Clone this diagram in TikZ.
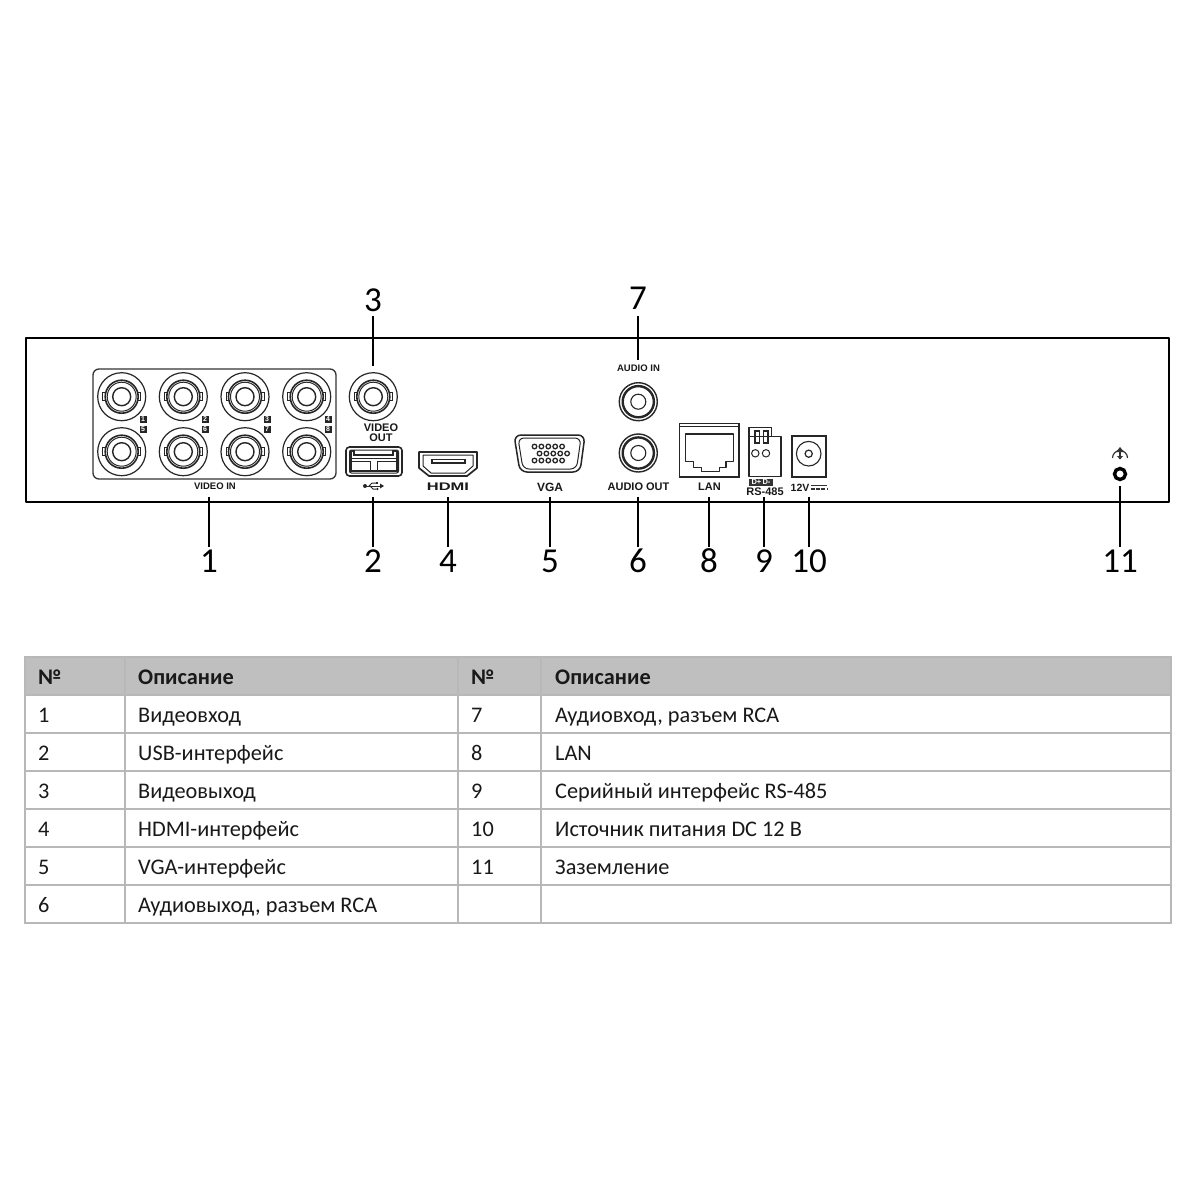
\documentclass[tikz,border=0pt]{standalone}
\usepackage{fontspec}
\setmainfont{Carlito}
\newfontfamily\lab{Liberation Sans}[BoldFont={Liberation Sans Bold}]
\begin{document}
\begin{tikzpicture}[x=1pt,y=-1pt,
  leader/.style={draw=black,line width=2.6pt},
  num/.style={anchor=base,font=\fontsize{35}{35}\selectfont,inner sep=0pt,text=black},
  plab/.style={font=\lab\bfseries\fontsize{9}{9}\selectfont,inner sep=0pt,text=black!90,align=center},
  badge/.style={fill=black!85,text=white,font=\lab\bfseries\fontsize{7}{7}\selectfont,inner sep=0pt,minimum width=7pt,minimum height=7.5pt},
  part/.style={draw=black!85,line width=1.2pt},
  cell/.style={anchor=base west,inner sep=0pt,font=\fontsize{22.3}{23}\selectfont,text=black!90},
  head/.style={anchor=base west,inner sep=0pt,font=\bfseries\fontsize{22.3}{23}\selectfont,text=black!90},
  grid/.style={draw=black!28,line width=1.4pt}]
\useasboundingbox (0,0) rectangle (1200,1200);
\fill[white] (0,0) rectangle (1200,1200);

% chassis
\draw[line width=2.6pt,black,line join=round] (26,338) rectangle (1169,502);
% video-in panel
\draw[black!80,line width=1.3pt,rounded corners=6pt] (93,369) rectangle (336,479);

\newcommand{\bnc}[2]{%
  \draw[part] (#1,#2) circle (24);
  \draw[part,line width=1.6pt] (#1,#2) circle (16.5);
  \draw[part,line width=1pt] (#1,#2) circle (14.5);
  \draw[part,line width=1.4pt] (#1,#2) circle (9);
  \draw[part,line width=1pt] (#1-15.5,#2-4) -- (#1-19,#2-4) -- (#1-19,#2+4) -- (#1-15.5,#2+4);
  \draw[part,line width=1pt] (#1+15.5,#2-4) -- (#1+19,#2-4) -- (#1+19,#2+4) -- (#1+15.5,#2+4);}
\foreach \x in {121.7,183.3,245,306.7}{\bnc{\x}{396.7}\bnc{\x}{451.7}}
\bnc{373.3}{396.7}

\node[badge] (b1) at (143,419.5) {1}; \node[badge] (b5) at (143,429.5) {5};
\node[badge] (b2) at (205,419.5) {2}; \node[badge] (b6) at (205,429.5) {6};
\node[badge] (b3) at (267,419.5) {3}; \node[badge] (b7) at (267,429.5) {7};
\node[badge] (b4) at (328,419.5) {4}; \node[badge] (b8) at (328,429.5) {8};

\node[plab,font=\lab\bfseries\fontsize{9.5}{9.5}\selectfont] (vin) at (215,486) {VIDEO IN};
\node[plab,font=\lab\bfseries\fontsize{11}{10}\selectfont] (vout) at (381,433) {VIDEO\\OUT};

% USB port
\draw[black!85,line width=1.6pt,rounded corners=3.5pt] (346,447) rectangle (402,476);
\draw[black!85,line width=1pt,rounded corners=2pt] (349.5,450) rectangle (398.5,473);
\draw[black!85,line width=1.2pt] (351,451) -- (351,471) -- (397,471) -- (397,451) -- (393,451) -- (393,455) -- (354,455) -- (354,451) -- cycle;
\draw[black!85,line width=1pt] (351,461) -- (370,461) -- (370,471) (377,471) -- (377,461) -- (397,461);
\draw[black!85,line width=1pt] (351,458.5) -- (397,458.5);
% USB symbol
\fill[black!85] (365,486) circle (2);
\draw[black!85,line width=1pt] (365,486) -- (380,486);
\fill[black!85] (380,483.5) -- (384,486) -- (380,488.5) -- cycle;
\draw[black!85,line width=1pt] (369,486) -- (372,483) -- (376,483) (370,486) -- (373,489) -- (376,489);
\fill[black!85] (376,481.8) rectangle (378.4,484.2);
\fill[black!85] (377.4,489) circle (1.3);

% HDMI port
\draw[black!85,line width=1.7pt,line join=round] (419,452) -- (477,452) -- (477,468) -- (467,476) -- (429,476) -- (419,468) -- cycle;
\draw[black!85,line width=1pt,line join=round] (423,455) -- (473,455) -- (473,466) -- (465,473) -- (431,473) -- (423,466) -- cycle;
\draw[black!85,line width=1.1pt] (432,459.5) rectangle (465,463);
\node[plab,font=\lab\bfseries\fontsize{11}{11}\selectfont,xscale=1.5] (hdmi) at (448,487) {HDMI};

% VGA port
\draw[black!85,line width=1.5pt,rounded corners=7pt] (514,435) -- (585,435) -- (580,472) -- (520,472) -- cycle;
\draw[black!85,line width=1pt,rounded corners=6pt] (518,438) -- (581,438) -- (576.5,469) -- (523,469) -- cycle;
\foreach \x in {0,1,2,3,4}{
  \draw[black!85,line width=1.3pt] (534.5+6.9*\x,446.5) circle (2.3);
  \draw[black!85,line width=1.3pt] (539.5+6.9*\x,453.5) circle (2.3);
  \draw[black!85,line width=1.3pt] (534.5+6.9*\x,460.5) circle (2.3);}
\node[plab,font=\lab\bfseries\fontsize{12}{12}\selectfont] (vga) at (550,487) {VGA};

% Audio jacks
\node[plab,font=\lab\bfseries\fontsize{9.5}{10}\selectfont] (ain) at (638.5,368.5) {AUDIO IN};
\foreach \y in {401.7,453}{
  \draw[black!85,line width=1.4pt] (638.3,\y) circle (19);
  \draw[black!85,line width=2.4pt] (638.3,\y) circle (15.6);
  \draw[black!85,line width=1.1pt] (638.3,\y) circle (7.5);}
\node[plab,font=\lab\bfseries\fontsize{11}{11}\selectfont] (aout) at (638.5,487) {AUDIO OUT};

% LAN
\draw[black!85,line width=1.8pt] (679.5,423.5) rectangle (739,477);
\draw[black!85,line width=.9pt] (680,426.5) -- (738.5,426.5);
\draw[black!85,line width=1.2pt,line join=round] (685.7,434) -- (733.3,434) -- (733.3,461.7) -- (726,461.7) -- (726,467.3) -- (719.3,467.3) -- (719.3,471.7) -- (701.7,471.7) -- (701.7,467.3) -- (693.3,467.3) -- (693.3,461.7) -- (685.7,461.7) -- cycle;
\node[plab,font=\lab\bfseries\fontsize{11}{11}\selectfont] (lan) at (709.5,487) {LAN};

% RS-485
\draw[black!85,line width=1.4pt,line join=round] (749,427.7) -- (771.7,427.7) -- (771.7,436.7) -- (781,436.7) -- (781,476.7) -- (749,476.7) -- cycle;
\draw[black!85,line width=1pt] (749,436.7) -- (771.7,436.7);
\draw[black!85,line width=1.6pt] (755,431) rectangle (759.3,443);
\draw[black!85,line width=1.6pt] (763.3,431) rectangle (767.7,443);
\draw[black!85,line width=1pt] (755.3,453.3) circle (3.7);
\draw[black!85,line width=1pt] (766,453.3) circle (3.7);
\node[fill=black!80,text=white,font=\lab\bfseries\fontsize{7.5}{7.5}\selectfont,inner sep=0pt,minimum width=24pt,minimum height=7pt] (dpm) at (761,482) {D+\,D-};
\node[plab,font=\lab\bfseries\fontsize{11}{11}\selectfont] (rs) at (765,492) {RS-485};

% 12 V
\draw[black!85,line width=1.7pt] (792,436.3) rectangle (825.7,476.7);
\draw[black!85,line width=1.1pt] (808.7,453.7) circle (12.3);
\draw[black!85,line width=1.2pt] (808.7,453.7) circle (3.6);
\node[plab,anchor=west,font=\lab\bfseries\fontsize{10.5}{10.5}\selectfont] (v12) at (790.5,487.5) {12V};
\coordinate (dca) at (811,485.7); \coordinate (dcb) at (827,485.7);
\coordinate (dcc) at (811,489); \coordinate (dcd) at (827,489);
\draw[black!80,line width=1.1pt] (dca) -- (dcb);
\draw[black!80,line width=1.1pt,dash pattern=on 3.6pt off 1.6pt] (dcc) -- (dcd);

% Ground
\draw[black,line width=3.4pt] (1120,474) circle (5.5);
\draw[black!80,line width=1.2pt] (1112.5,458) arc[start angle=180,end angle=360,radius=7.5];
\draw[black!80,line width=1.1pt] (1120,447.5) -- (1120,459);
\fill[black!80] (1116,452) -- (1124,452) -- (1120,447) -- cycle;
\fill[black!80] (1117,456) -- (1123,456) -- (1120,459.5) -- cycle;

% callouts
\node[num] (n3) at (373,311) {3};
\node[num] (n7) at (638,309) {7};
\node[num] (n1) at (209,572) {1};
\node[num] (n2) at (373,572) {2};
\node[num] (n4) at (448,572) {4};
\node[num] (n5) at (550,572) {5};
\node[num] (n6) at (638,572) {6};
\node[num] (n8) at (709,572) {8};
\node[num] (n9) at (764,572) {9};
\node[num] (n10) at (809,572) {10};
\node[num] (n11) at (1120,572) {11};
\coordinate (p1) at (209,497); \coordinate (p2) at (373,497);
\coordinate (p3) at (373,366); \coordinate (p4) at (448,497);
\coordinate (p5) at (550,497); \coordinate (p6) at (638,497);
\coordinate (p7) at (638,360); \coordinate (p8) at (709,497);
\coordinate (p9) at (764,497); \coordinate (p10) at (809,497);
\coordinate (p11) at (1120,486);
\draw[leader] (373,316) -- (p3);
\draw[leader] (638,316) -- (p7);
\foreach \k/\xx in {1/209,2/373,4/448,5/550,6/638,8/709,9/764,10/809,11/1120}{
  \draw[leader] (p\k) -- (\xx,547);}

% table
\fill[black!25] (25,657) rectangle (1171,695);
\foreach \y in {695,733,771,809,847,885}{\draw[grid] (25,\y) -- (1171,\y);}
\foreach \x in {125,458,541}{\draw[grid] (\x,657) -- (\x,923);}
\draw[grid] (25,657) rectangle (1171,923);

\node[head] (h1) at (38,684) {№};
\node[head] (h2) at (138,684) {Описание};
\node[head] (h3) at (471,684) {№};
\node[head] (h4) at (555,684) {Описание};
\node[cell] (a1) at (38,722) {1};  \node[cell] (d1) at (138,722) {Видеовход};
\node[cell] (a2) at (38,760) {2};  \node[cell] (d2) at (138,760) {USB-интерфейс};
\node[cell] (a3) at (38,798) {3};  \node[cell] (d3) at (138,798) {Видеовыход};
\node[cell] (a4) at (38,836) {4};  \node[cell] (d4) at (138,836) {HDMI-интерфейс};
\node[cell] (a5) at (38,874) {5};  \node[cell] (d5) at (138,874) {VGA-интерфейс};
\node[cell] (a6) at (38,912) {6};  \node[cell] (d6) at (138,912) {Аудиовыход, разъем RCA};
\node[cell] (a7) at (471,722) {7};  \node[cell] (d7) at (555,722) {Аудиовход, разъем RCA};
\node[cell] (a8) at (471,760) {8};  \node[cell] (d8) at (555,760) {LAN};
\node[cell] (a9) at (471,798) {9};  \node[cell] (d9) at (555,798) {Серийный интерфейс RS-485};
\node[cell] (a10) at (471,836) {10}; \node[cell] (d10) at (555,836) {Источник питания DC 12 В};
\node[cell] (a11) at (471,874) {11}; \node[cell] (d11) at (555,874) {Заземление};
\end{tikzpicture}
\end{document}
